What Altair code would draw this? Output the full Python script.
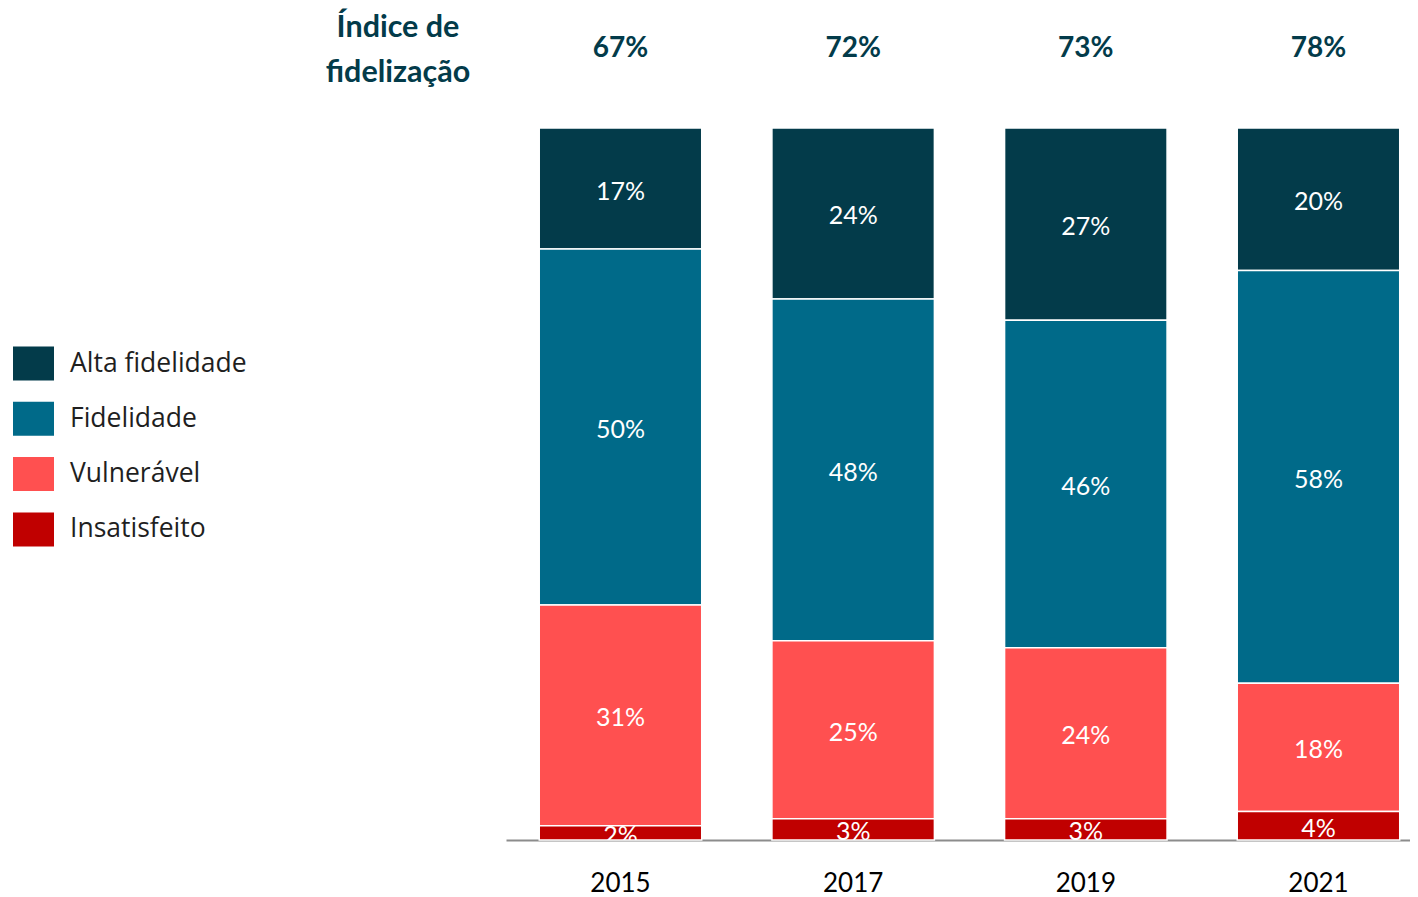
import altair as alt
import pandas as pd

years = ["2015", "2017", "2019", "2021"]
segments = ["Alta fidelidade", "Fidelidade", "Vulnerável", "Insatisfeito"]
alta = [17, 24, 27, 20]
fidelidade = [50, 48, 46, 58]
vulneravel = [31, 25, 24, 18]
insatisfeito = [2, 3, 3, 4]
indice = [67, 72, 73, 78]
colors = ["#033b4a", "#006a89", "#ff5050", "#c00000"]
header_title = ["Índice de", "fidelização"]

rows = []
for series, vals in zip(segments, [alta, fidelidade, vulneravel, insatisfeito]):
    for yr, v in zip(years, vals):
        rows.append({"ano": yr, "segmento": series, "valor": v,
                     "ordem": len(segments) - 1 - segments.index(series)})
df = pd.DataFrame(rows)
idx = pd.DataFrame({"ano": years, "indice": indice})

x_enc = alt.X(
    "ano:N",
    scale=alt.Scale(paddingInner=0.3016, paddingOuter=0.0935, align=0.764, round=False),
    axis=alt.Axis(title=None, labelAngle=0, ticks=False, tickSize=0,
                  domainColor="#8c8c8c", domainWidth=2,
                  labelFont="Lato", labelFontSize=26, labelColor="#000000",
                  labelPadding=30),
)

bars = alt.Chart(df).mark_bar(stroke="white", strokeWidth=1.5).encode(
    x=x_enc,
    y=alt.Y("valor:Q", stack="zero", scale=alt.Scale(domain=[0, 100]), axis=None),
    color=alt.Color(
        "segmento:N",
        scale=alt.Scale(domain=segments, range=colors),
        legend=alt.Legend(
            title=None, orient="none", legendX=-493, legendY=215,
            symbolType="M-1,-0.83L1,-0.83L1,0.83L-1,0.83Z", symbolSize=1681,
            symbolStrokeWidth=0, symbolOpacity=1,
            labelFont="Open Sans", labelFontSize=26.5, labelColor="#1f1f1f",
            labelOffset=16, labelLimit=400, rowPadding=17.3, padding=0,
        ),
    ),
    order=alt.Order("ordem:Q"),
)

labels = alt.Chart(df).transform_stack(
    stack="valor", groupby=["ano"], as_=["y0", "y1"],
    sort=[alt.SortField("ordem", order="ascending")],
).transform_calculate(
    mid="(datum.y0 + datum.y1) / 2", lbl="datum.valor + '%'"
).mark_text(
    clip=True, font="Lato", fontSize=25, color="white", baseline="middle", dy=3
).encode(
    x=alt.X("ano:N"),
    y=alt.Y("mid:Q"),
    text="lbl:N",
)

header = alt.Chart(idx).transform_calculate(
    lbl="datum.indice + '%'"
).mark_text(
    font="Lato", fontSize=28, fontWeight="bold", color="#033b4a", baseline="middle"
).encode(
    x=alt.X("ano:N"),
    y=alt.value(-79),
    text="lbl:N",
)

title_txt = alt.Chart(pd.DataFrame({"t": [0]})).mark_text(
    text=header_title, lineHeight=45, font="Lato", fontSize=30.5, fontWeight="bold",
    color="#033b4a", baseline="middle", align="center",
).encode(x=alt.value(-108), y=alt.value(-100))

chart = alt.layer(bars, labels, header, title_txt).properties(
    width=904, height=712,
    padding={"left": 5, "top": 5, "right": 0, "bottom": 0},
).configure_view(stroke=None)

chart.save("out.html", embed_options={"renderer": "svg", "actions": False})
